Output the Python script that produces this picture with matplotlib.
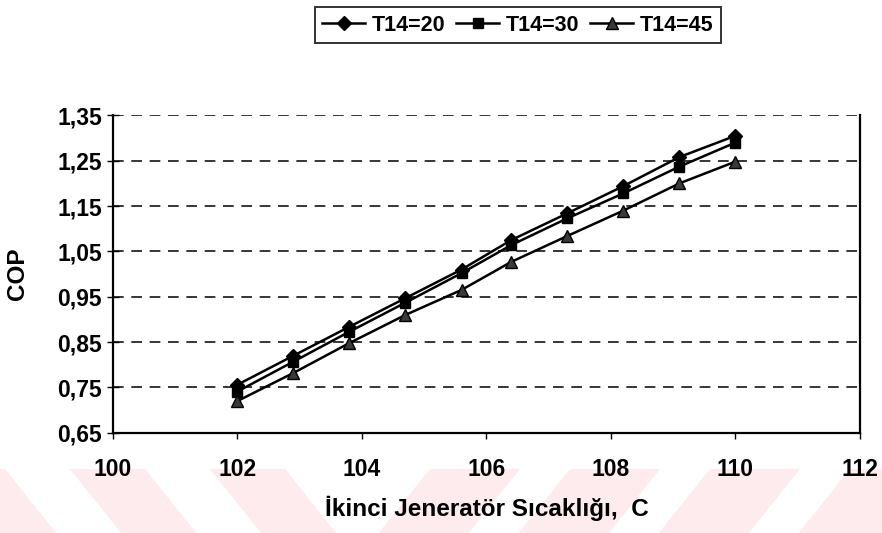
import numpy as np
import matplotlib
matplotlib.use("Agg")
import matplotlib.pyplot as plt
from matplotlib.patches import Polygon
from matplotlib.ticker import FuncFormatter, MultipleLocator

# Data
temps = [102.0, 102.9, 103.8, 104.7, 105.6, 106.4, 107.3, 108.2, 109.1, 110.0]
cop_20 = [0.756, 0.820, 0.884, 0.947, 1.010, 1.075, 1.134, 1.194, 1.258, 1.305]
cop_30 = [0.741, 0.807, 0.873, 0.937, 1.002, 1.064, 1.123, 1.178, 1.237, 1.290]
cop_45 = [0.720, 0.782, 0.848, 0.910, 0.965, 1.027, 1.084, 1.140, 1.200, 1.248]
series_labels = ["T14=20", "T14=30", "T14=45"]

plt.rcParams["font.family"] = ["Liberation Sans", "DejaVu Sans"]
plt.rcParams["font.weight"] = "bold"

fig = plt.figure(figsize=(8.82, 5.33), dpi=100)

# faint pink watermark stripes at the bottom of the page (pixel coords)
bg = fig.add_axes([0, 0, 1, 1], zorder=-5)
bg.set_xlim(0, 882)
bg.set_ylim(533, 0)
bg.axis("off")
pink = "#fdebee"
top, bot = 469, 533
drift = 0.8 * (bot - top)
for x0 in [-70, 70, 210]:
    bg.add_patch(Polygon([(x0, top), (x0 + 75, top), (x0 + 75 + drift, bot), (x0 + drift, bot)],
                         closed=True, color=pink, lw=0))
for x0 in [430, 570, 710, 850]:
    bg.add_patch(Polygon([(x0, top), (x0 + 90, top), (x0 + 90 - drift, bot), (x0 - drift, bot)],
                         closed=True, color=pink, lw=0))

ax = fig.add_axes([0.128, 0.188, 0.847, 0.596])
ax.set_facecolor("none")

ax.plot(temps, cop_20, color="black", lw=1.8, marker="D", ms=7, mfc="black", mec="black",
        label=series_labels[0], zorder=4)
ax.plot(temps, cop_30, color="black", lw=1.8, marker="s", ms=7, mfc="black", mec="black",
        label=series_labels[1], zorder=4)
ax.plot(temps, cop_45, color="black", lw=1.8, marker="^", ms=8, mfc="#3a3a3a", mec="black",
        label=series_labels[2], zorder=4)

ax.set_xlim(100, 112)
ax.set_ylim(0.65, 1.3505)
ax.xaxis.set_major_locator(MultipleLocator(2))
ax.set_yticks(np.arange(0.65, 1.36, 0.1))
ax.yaxis.set_major_formatter(FuncFormatter(lambda v, p: f"{v:.2f}".replace(".", ",")))
ax.xaxis.set_major_formatter(FuncFormatter(lambda v, p: f"{v:.0f}"))

ax.grid(axis="y", color="black", linestyle=(0, (7, 5)), lw=1.1)
ax.spines["top"].set_visible(False)
for s in ["left", "right", "bottom"]:
    ax.spines[s].set_linewidth(1.6)
ax.tick_params(axis="y", direction="inout", length=8, width=1, labelsize=16.5, pad=4)
ax.tick_params(axis="x", direction="out", length=4, width=1, labelsize=16.5, pad=14)

ax.set_xlabel("İkinci Jeneratör Sıcaklığı,  C", fontsize=17.5, fontweight="bold", labelpad=11)
ax.set_ylabel("COP", fontsize=17.5, fontweight="bold", labelpad=20)

leg = fig.legend(loc="center", bbox_to_anchor=(0.587, 0.953), ncol=3, fontsize=15.5,
                 frameon=True, fancybox=False, edgecolor="black", handlelength=2.0,
                 handletextpad=0.3, columnspacing=0.5, borderpad=0.35)
leg.get_frame().set_linewidth(1.4)

fig.savefig("out.png", dpi=100)
